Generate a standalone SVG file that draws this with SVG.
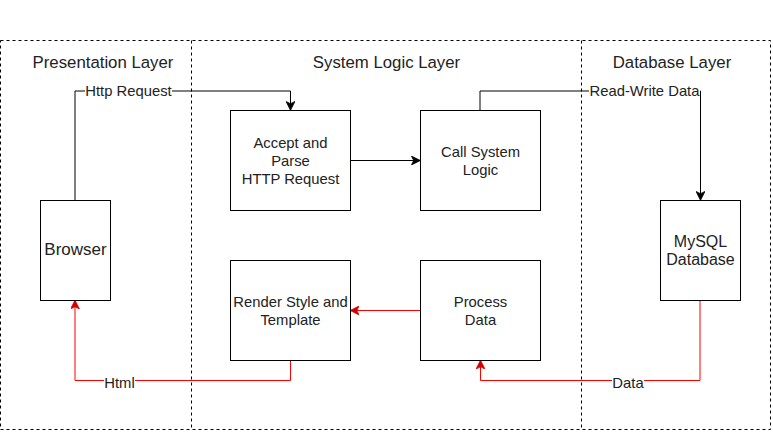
<svg xmlns="http://www.w3.org/2000/svg" width="773" height="433" viewBox="0 0 773 433">
<style>
.lane{fill:none;stroke:#000;stroke-width:1;stroke-dasharray:3 3}
.box{fill:#fff;stroke:#000;stroke-width:1}
.title{font-family:"Liberation Sans",Arial,sans-serif;font-size:16.8px;fill:#222;text-anchor:middle}
.txt{font-family:"Liberation Sans",Arial,sans-serif;font-size:14.8px;fill:#222;text-anchor:middle}
.lbl{font-family:"Liberation Sans",Arial,sans-serif;font-size:14.8px;fill:#222;text-anchor:middle}
.blk{fill:none;stroke:#000;stroke-width:1}
.red{fill:none;stroke:#ff0000;stroke-width:1}
.bg{fill:#fff}
</style>
<defs>
<marker id="ab" viewBox="0 0 10 10" refX="9" refY="5" markerWidth="9" markerHeight="9" markerUnits="userSpaceOnUse" orient="auto">
<path d="M0,0 L10,5 L0,10 L2.5,5 Z" fill="#000" stroke="#000" stroke-width="0.8"/>
</marker>
<marker id="ar" viewBox="0 0 10 10" refX="9" refY="5" markerWidth="9" markerHeight="9" markerUnits="userSpaceOnUse" orient="auto">
<path d="M0,0 L10,5 L0,10 L2.5,5 Z" fill="#d40000" stroke="#d40000" stroke-width="0.8"/>
</marker>
</defs>
<rect width="773" height="433" fill="#fff"/>
<g id="lanes">
<rect class="lane" x="0.5" y="40.5" width="770" height="389"/>
<line class="lane" x1="191.5" y1="40.5" x2="191.5" y2="429.5"/>
<line class="lane" x1="581.5" y1="40.5" x2="581.5" y2="429.5"/>
<text class="title" x="103" y="68">Presentation Layer</text>
<text class="title" x="386.5" y="68">System Logic Layer</text>
<text class="title" x="672" y="68">Database Layer</text>
</g>
<g id="connectors">
<path class="blk" d="M75,200 V91 H290.5 V109.5" marker-end="url(#ab)"/>
<path class="blk" d="M350.5,160.5 H419.5" marker-end="url(#ab)"/>
<path class="blk" d="M480,110 V91 H700.5 V199.5" marker-end="url(#ab)"/>
<path class="red" d="M420,310.5 H351" marker-end="url(#ar)"/>
<path class="red" d="M290.5,360.5 V380.5 H75 V301" marker-end="url(#ar)"/>
<path class="red" d="M700,300.5 V380.5 H480.5 V361" marker-end="url(#ar)"/>
<rect class="bg" x="85" y="82" width="87" height="18"/>
<text class="lbl" x="128.5" y="96">Http Request</text>
<rect class="bg" x="589" y="82" width="111" height="18"/>
<text class="lbl" x="644.5" y="96">Read-Write Data</text>
<rect class="bg" x="104" y="373" width="31" height="18"/>
<text class="lbl" x="119.5" y="387.5">Html</text>
<rect class="bg" x="612" y="373" width="32" height="18"/>
<text class="lbl" x="628" y="387.5">Data</text>
</g>
<g id="browser">
<rect class="box" x="40.5" y="200.5" width="70" height="100"/>
<text class="txt" x="75.5" y="255" style="font-size:17px">Browser</text>
</g>
<g id="accept">
<rect class="box" x="230.5" y="110.5" width="120" height="100"/>
<text class="txt" x="290.5" y="148">Accept and</text>
<text class="txt" x="290.5" y="166">Parse</text>
<text class="txt" x="290.5" y="184">HTTP Request</text>
</g>
<g id="call">
<rect class="box" x="420.5" y="110.5" width="120" height="100"/>
<text class="txt" x="480.5" y="157">Call System</text>
<text class="txt" x="480.5" y="175">Logic</text>
</g>
<g id="render">
<rect class="box" x="230.5" y="260.5" width="120" height="100"/>
<text class="txt" x="290.5" y="307">Render Style and</text>
<text class="txt" x="290.5" y="325">Template</text>
</g>
<g id="process">
<rect class="box" x="420.5" y="260.5" width="120" height="100"/>
<text class="txt" x="480.5" y="307">Process</text>
<text class="txt" x="480.5" y="325">Data</text>
</g>
<g id="mysql">
<rect class="box" x="660.5" y="200.5" width="80" height="100"/>
<text class="txt" x="700.5" y="247" style="font-size:16px">MySQL</text>
<text class="txt" x="700.5" y="265" style="font-size:16px">Database</text>
</g>
</svg>
